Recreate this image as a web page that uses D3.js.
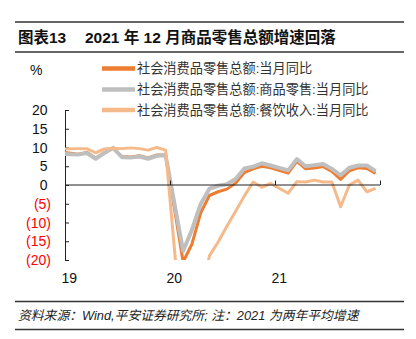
<!DOCTYPE html>
<html><head><meta charset="utf-8">
<script src="https://cdn.jsdelivr.net/npm/d3@7"></script>
<style>
html,body{margin:0;padding:0;background:#fff;}
svg{display:block;}
</style></head>
<body>
<svg id="chart" width="416" height="339"></svg>
<script>
// ---------- DATA ----------
const months = ["2018-12",
 "2019-01","2019-02","2019-03","2019-04","2019-05","2019-06","2019-07","2019-08","2019-09","2019-10","2019-11","2019-12",
 "2020-01","2020-02","2020-03","2020-04","2020-05","2020-06","2020-07","2020-08","2020-09","2020-10","2020-11","2020-12",
 "2021-01","2021-02","2021-03","2021-04","2021-05","2021-06","2021-07","2021-08","2021-09","2021-10","2021-11","2021-12"];
// 社会消费品零售总额:当月同比
const totalYoY = [8.8,
 null,8.2,8.7,7.2,8.6,9.8,7.6,7.5,7.8,7.2,8.0,8.0,
 null,-20.5,-15.8,-7.5,-2.8,-1.8,-1.1,0.5,3.3,4.3,5.0,4.6,
 null,3.2,6.3,4.3,4.5,4.9,3.6,1.5,3.8,4.6,4.4,3.1];
// 社会消费品零售总额:商品零售:当月同比
const goodsYoY = [8.3,
 null,8.1,8.5,7.0,8.5,9.9,7.4,7.3,7.6,7.0,7.8,7.9,
 null,-17.6,-12.0,-5.1,-1.0,-0.2,0.2,1.6,4.4,4.9,5.8,5.2,
 null,3.9,6.9,5.0,5.3,5.6,4.3,2.6,4.6,5.2,5.2,3.7];
// 社会消费品零售总额:餐饮收入:当月同比
const cateringYoY = [9.6,
 null,9.7,9.7,8.6,9.6,9.8,9.7,9.9,9.7,9.3,10.0,9.3,
 null,-43.1,-46.8,-31.1,-18.9,-15.2,-11.0,-7.0,-2.9,0.8,-0.6,0.4,
 null,-2.2,0.9,0.8,1.3,0.8,0.8,-5.8,0.0,1.3,-1.8,-0.9];
const seriesNames = ["社会消费品零售总额:当月同比","社会消费品零售总额:商品零售:当月同比","社会消费品零售总额:餐饮收入:当月同比"];
const yTicks = [20,15,10,5,0,-5,-10,-15,-20];
const xTickLabels = ["19","20","21"];
const titleLeft = "图表13";
const titleRight = "2021 年 12 月商品零售总额增速回落";
const sourceText = "资料来源：Wind,平安证券研究所; 注：2021 为两年平均增速";

// ---------- STYLE ----------
const colors = ["#ED7D31","#BFBFBF","#F6B98A"];
const widths = [3,4,3];
const FONT = "'Liberation Sans', Arial, 'Noto Sans CJK SC', sans-serif";

const svg = d3.select("#chart");

// rules & title
[22,52,301.5,329.5].forEach(yy=>{
  svg.append("line").attr("x1",15).attr("x2",404).attr("y1",yy).attr("y2",yy)
    .attr("stroke","#333").attr("stroke-width",1.3);
});
svg.append("text").attr("x",18).attr("y",42.5).text(titleLeft)
  .attr("font-family",FONT).attr("font-size",15.5).attr("font-weight","bold").attr("fill","#111");
svg.append("text").attr("x",85).attr("y",42.5).text(titleRight)
  .attr("font-family",FONT).attr("font-size",15.5).attr("font-weight","bold").attr("fill","#111");
svg.append("text").attr("x",18).attr("y",320).text(sourceText)
  .attr("font-family",FONT).attr("font-size",12.8).attr("font-style","italic").attr("fill","#222");

// scales
const x0 = 65, x1 = 380, yTop = 110, yBot = 260;
const xs = d3.scaleLinear().domain([0,36]).range([x0,x1]);
const ys = d3.scaleLinear().domain([-20,20]).range([yBot,yTop]);
const monthIdx = s => { const [yy,mm] = s.split("-").map(Number); return (yy-2019)*12 + (mm-1); };
const xPos = s => xs(monthIdx(s)+0.5);

// clip
svg.append("defs").append("clipPath").attr("id","clip")
  .append("rect").attr("x",x0).attr("y",yTop-10).attr("width",x1-x0+6).attr("height",yBot-yTop+10);

// y axis
const yAxis = d3.axisRight(ys).tickValues(yTicks).tickSize(4).tickFormat("");
const gy = svg.append("g").attr("transform",`translate(${x0},0)`).call(yAxis);
gy.select(".domain").attr("stroke","#222");
gy.selectAll(".tick line").attr("stroke","#222");
yTicks.forEach(v=>{
  svg.append("text")
    .attr("x", v<0 ? 51 : 47.5).attr("y", ys(v)).attr("dy","0.36em")
    .attr("text-anchor","end").attr("font-family",FONT).attr("font-size",14)
    .attr("fill", v<0 ? "#FF0000" : "#111")
    .text(v<0 ? `(${-v})` : `${v}`);
});
svg.append("text").attr("x",30).attr("y",75).text("%")
  .attr("font-family",FONT).attr("font-size",14).attr("fill","#111");

// lines
const allSeries = [totalYoY, goodsYoY, cateringYoY];
const lineGen = d3.line().x(d=>xPos(d.m)).y(d=>ys(d.v));
const plot = svg.append("g").attr("clip-path","url(#clip)");
allSeries.forEach((arr,i)=>{
  const pts = months.map((m,j)=>({m, v:arr[j]})).filter(d=>d.v!==null);
  plot.append("path").datum(pts).attr("d",lineGen)
    .attr("fill","none").attr("stroke",colors[i]).attr("stroke-width",widths[i])
    .attr("stroke-linejoin","round");
});

// x axis at zero
const xTickVals = [0,12,24,36];
const xAxis = d3.axisTop(xs).tickValues(xTickVals).tickSize(4.5).tickFormat("");
const gx = svg.append("g").attr("transform",`translate(0,${ys(0)})`).call(xAxis);
gx.select(".domain").attr("stroke","#222").attr("d",`M${x0},0H${x1}`);
gx.selectAll(".tick line").attr("stroke","#222");
xTickLabels.forEach((lab,k)=>{
  svg.append("text").attr("x", xs(12*k+0.5)).attr("y",283)
    .attr("text-anchor","middle").attr("font-family",FONT).attr("font-size",14).attr("fill","#111")
    .text(lab);
});

// legend
const legY = [68.5,89.5,110];
seriesNames.forEach((nm,i)=>{
  svg.append("line").attr("x1",102).attr("x2",135).attr("y1",legY[i]).attr("y2",legY[i])
    .attr("stroke",colors[i]).attr("stroke-width",4.5);
  svg.append("text").attr("x",137).attr("y",legY[i]).attr("dy","0.36em")
    .attr("font-family",FONT).attr("font-size",13.2).attr("fill","#333").text(nm);
});
</script>
</body></html>
